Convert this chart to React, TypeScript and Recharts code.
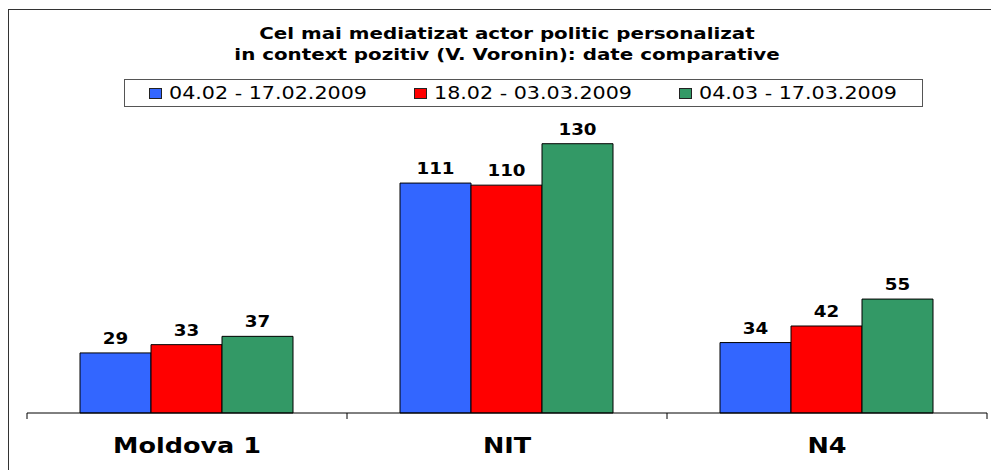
import { BarChart, Bar, XAxis, YAxis, LabelList } from 'recharts'

const categories = ['Moldova 1', 'NIT', 'N4']
const periods = ['04.02 - 17.02.2009', '18.02 - 03.03.2009', '04.03 - 17.03.2009']
const period1 = [29, 111, 34]
const period2 = [33, 110, 42]
const period3 = [37, 130, 55]
const colors = ['#3366FF', '#FF0000', '#339966']
const titleLines = ['Cel mai mediatizat actor politic personalizat', 'in context pozitiv (V. Voronin): date comparative']

const data = categories.map((name, i) => ({
  name,
  p1: period1[i],
  p2: period2[i],
  p3: period3[i],
}))
const seriesKeys = ['p1', 'p2', 'p3']

const FONT = '"DejaVu Sans", Verdana, sans-serif'
const HALF_BAND = 160

function CategoryTick(props: any) {
  const { x, y, payload, index } = props
  return (
    <g>
      <line x1={x - HALF_BAND} y1={y - 6} x2={x - HALF_BAND} y2={y} stroke="#000" />
      {index === categories.length - 1 && (
        <line x1={x + HALF_BAND} y1={y - 6} x2={x + HALF_BAND} y2={y} stroke="#000" />
      )}
      <text
        transform={`translate(${x},${y + 34}) scale(1.16,1)`}
        textAnchor="middle"
        fontFamily={FONT}
        fontWeight="bold"
        fontSize={22}
        fill="#000"
      >
        {payload.value}
      </text>
    </g>
  )
}

function ValueLabel(props: any) {
  const { x, y, width, value } = props
  return (
    <text
      transform={`translate(${x + width / 2},${y - 9}) scale(1.18,1)`}
      textAnchor="middle"
      fontFamily={FONT}
      fontWeight="bold"
      fontSize={15.5}
      fill="#000"
    >
      {value}
    </text>
  )
}

export default function App() {
  return (
    <div style={{ position: 'absolute', left: 0, top: 0, width: 991, height: 470, background: '#fff', overflow: 'hidden' }}>
      {/* chart frame, cut off at right and bottom like the original */}
      <div style={{ position: 'absolute', left: 8, top: 9, width: 1000, height: 480, borderLeft: '1px solid #333', borderTop: '1px solid #333' }} />

      <div style={{ position: 'absolute', left: 507, top: 24, transform: 'translateX(-50%) scale(1.28,1)', whiteSpace: 'nowrap', textAlign: 'center', fontFamily: FONT, fontWeight: 'bold', fontSize: 15.5, lineHeight: '21px', color: '#000' }}>
        {titleLines.map(t => <div key={t}>{t}</div>)}
      </div>

      <div style={{ position: 'absolute', left: 124, top: 79, width: 797, height: 26, border: '1px solid #555', boxSizing: 'content-box' }}>
        {periods.map((p, i) => (
          <div key={p} style={{ position: 'absolute', left: 24 + i * 265, top: 0, height: 26, display: 'flex', alignItems: 'center', whiteSpace: 'nowrap' }}>
            <span style={{ width: 11, height: 9, background: colors[i], border: '1px solid #222', display: 'inline-block' }} />
            <span style={{ marginLeft: 7, fontFamily: FONT, fontSize: 17.5, color: '#000', display: 'inline-block', transform: 'scale(1.18,1)', transformOrigin: '0 50%' }}>{p}</span>
          </div>
        ))}
      </div>

      <div style={{ position: 'absolute', left: 0, top: 0 }}>
        <BarChart width={991} height={470} data={data} margin={{ top: 123, right: 4, left: 27, bottom: 0 }} barCategoryGap={53} barGap={0}>
          <XAxis
            dataKey="name"
            height={57}
            axisLine={{ stroke: '#000' }}
            tickLine={false}
            tickMargin={0}
            tick={<CategoryTick />}
            interval={0}
          />
          <YAxis hide domain={[0, 140]} />
          {seriesKeys.map((k, i) => (
            <Bar key={k} dataKey={k} fill={colors[i]} stroke="#000" strokeWidth={1} isAnimationActive={false}>
              <LabelList dataKey={k} content={<ValueLabel />} />
            </Bar>
          ))}
        </BarChart>
      </div>
    </div>
  )
}
